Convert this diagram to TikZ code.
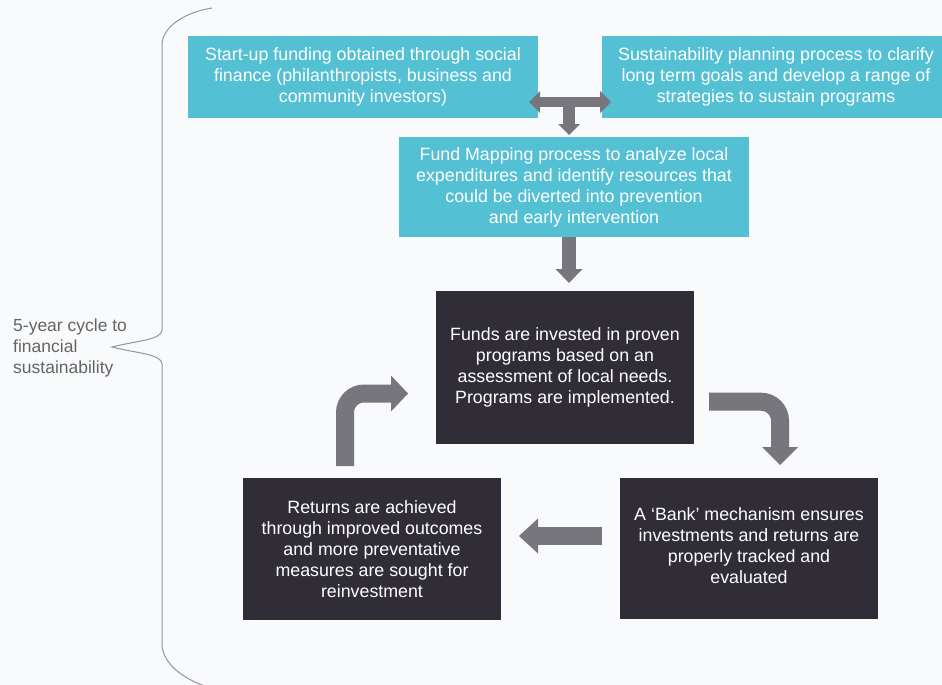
\documentclass[tikz,border=0pt]{standalone}
\usepackage{fontspec}
\setmainfont{Liberation Sans}
\usetikzlibrary{arrows.meta}
\definecolor{bg}{RGB}{249,250,252}
\definecolor{cyanbox}{RGB}{84,192,212}
\definecolor{darkbox}{RGB}{48,45,54}
\definecolor{arrowgray}{RGB}{119,118,124}
\definecolor{bracegray}{RGB}{150,150,150}
\definecolor{sidegray}{RGB}{100,100,100}
\begin{document}
\begin{tikzpicture}[x=1pt,y=-1pt,
  box/.style={rectangle, inner sep=0pt, align=center, text=white,
    font=\fontsize{17.8}{21}\selectfont},
  cbox/.style={box, fill=cyanbox},
  dbox/.style={box, fill=darkbox},
  blockarrow/.style={draw=arrowgray, fill=arrowgray, line width=#1, line cap=butt},
  tip/.style n args={2}{-{Triangle[length=#1,width=#2,line width=0pt]}},
]
\fill[bg] (0,0) rectangle (942,685);
\useasboundingbox (0,0) rectangle (942,685);

% boxes
\node[cbox, minimum width=350pt, minimum height=82pt] (startup) at (363,77)
  {Start-up funding obtained through social\\finance (philanthropists, business and\\community investors)};
\node[cbox, minimum width=348pt, minimum height=82pt] (plan) at (776,77)
  {Sustainability planning process to clarify\\long term goals and develop a range of\\strategies to sustain programs};
\node[cbox, minimum width=350pt, minimum height=100pt] (fund) at (574,187)
  {Fund Mapping process to analyze local\\expenditures and identify resources that\\could be diverted into prevention\\and early intervention};
\node[dbox, minimum width=258pt, minimum height=153pt] (invest) at (565,367.5)
  {Funds are invested in proven\\programs based on an\\assessment of local needs.\\Programs are implemented.};
\node[dbox, minimum width=258pt, minimum height=141pt, text depth=6pt] (bank) at (749,548.5)
  {A ‘Bank’ mechanism ensures\\investments and returns are\\properly tracked and\\evaluated};
\node[dbox, minimum width=258pt, minimum height=142pt] (returns) at (372,549)
  {Returns are achieved\\through improved outcomes\\and more preventative\\measures are sought for\\reinvestment};

% connector end points
\coordinate (tl) at (529,102);
\coordinate (tr) at (611,102);
\coordinate (tm) at (569,102);
\coordinate (tb) at (569,135);
\coordinate (fa) at (569,237);
\coordinate (fb) at (569,283);
\coordinate (ra) at (709,401.7);
\coordinate (rc) at (780,401.7);
\coordinate (rb) at (780,465);
\coordinate (la) at (602,536);
\coordinate (lb) at (519,536);
\coordinate (ua) at (345,466);
\coordinate (uc) at (345,393.5);
\coordinate (ub) at (408,393.5);

% arrows
\draw[blockarrow=10pt, {Triangle[length=11pt,width=22pt,line width=0pt]}-{Triangle[length=11pt,width=22pt,line width=0pt]}] (tl) -- (tr);
\draw[blockarrow=12pt, tip={11pt}{22pt}] (tm) -- (tb);
\draw[blockarrow=14pt, tip={14pt}{27pt}] (fa) -- (fb);
\draw[blockarrow=18pt, rounded corners=19pt, fill=none, tip={18pt}{36pt}] (ra) -- (rc) -- (rb);
\draw[blockarrow=18pt, tip={19pt}{35pt}] (la) -- (lb);
\draw[blockarrow=18pt, rounded corners=19pt, fill=none, tip={17pt}{36pt}] (ua) -- (uc) -- (ub);

% brace
\draw[bracegray, line width=1pt] (212,8) .. controls (186,12) and (163,26) .. (162,44)
  -- (162,330) .. controls (162,340) and (135,341) .. (112,347)
  .. controls (135,353) and (162,354) .. (162,364)
  -- (162,645) .. controls (163,664) and (184,679) .. (205,686);

\node[anchor=north west, inner sep=0pt, align=left, text=sidegray,
  font=\fontsize{17.5}{21}\selectfont] (cycle) at (13,318.5)
  {5-year cycle to\\financial\\sustainability};
\end{tikzpicture}
\end{document}
